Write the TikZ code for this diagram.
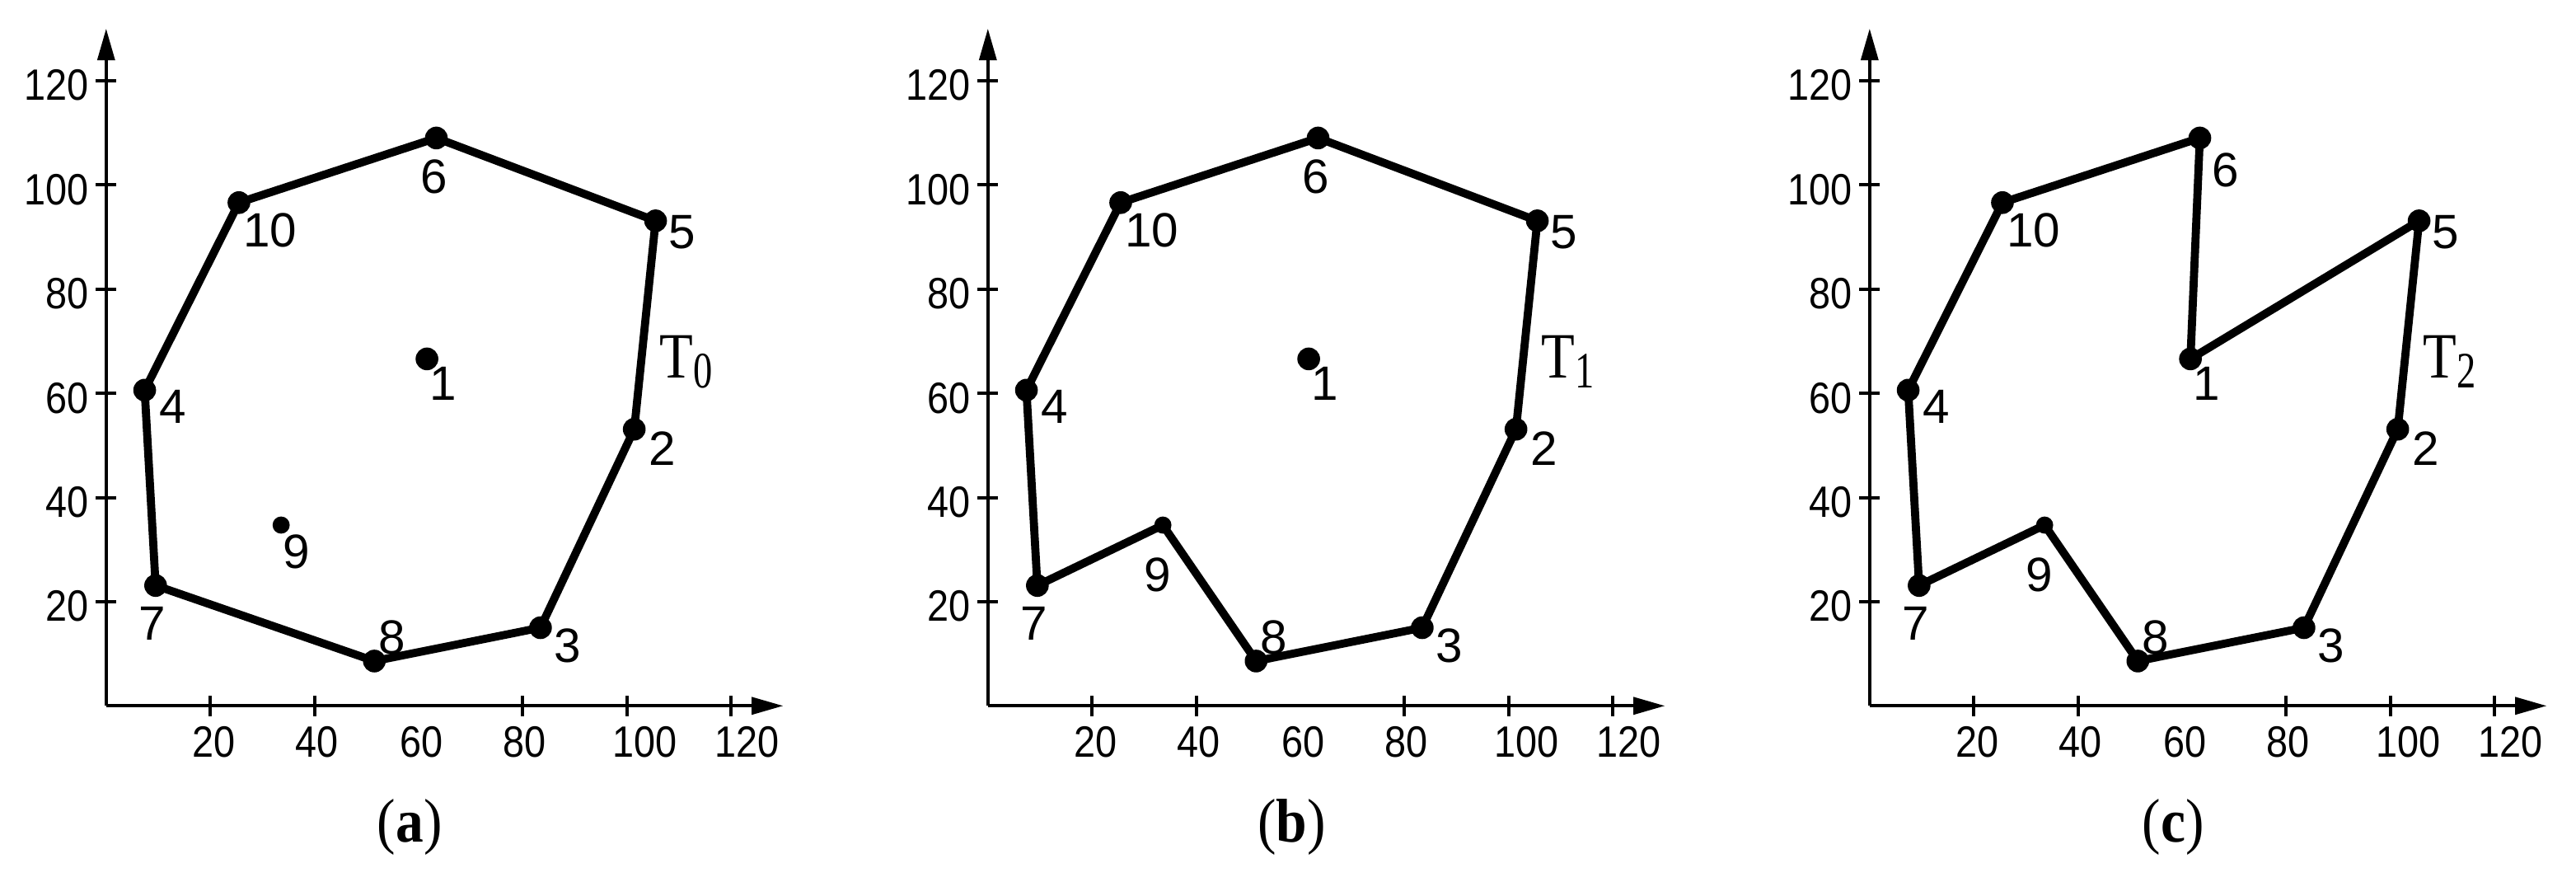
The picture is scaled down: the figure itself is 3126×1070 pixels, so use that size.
\documentclass[tikz,border=0pt]{standalone}
\usepackage{fontspec}
\usetikzlibrary{arrows.meta}
\newfontfamily\lblfont{Liberation Sans}
\newfontfamily\tickfont[FakeStretch=0.88]{Liberation Sans}
\newfontfamily\tfont[FakeStretch=0.85]{Liberation Serif}
\newfontfamily\tsubfont[FakeStretch=0.75]{Liberation Serif}
\newfontfamily\capfont[FakeStretch=0.9]{Liberation Serif}
\tikzset{
  axisline/.style={line width=1pt, -{Triangle[length=9.6pt,width=5.2pt]}},
  tickline/.style={line width=1pt},
  tour/.style={line width=2.45pt, line join=round, line cap=round},
  dot/.style={circle, fill, inner sep=0pt, minimum size=6.9pt},
  smalldot/.style={circle, fill, inner sep=0pt, minimum size=5.2pt},
  lbl/.style={inner sep=0pt, font=\lblfont\fontsize{14.6}{16}\selectfont},
  ticklbl/.style={inner sep=0pt, font=\tickfont\fontsize{13.3}{15}\selectfont},
  tlbl/.style={inner sep=0pt, anchor=base west, font=\tfont\fontsize{19.6}{22}\selectfont},
  caplbl/.style={inner sep=0pt, anchor=base, font=\capfont\fontsize{18.75}{22}\selectfont},
}
\begin{document}
\begin{tikzpicture}[x=0.25pt,y=-0.25pt]
\useasboundingbox (0,0) rectangle (3126,1070);
\foreach \pr/\ox/\tn/\sxa/\sya/\sxn/\syn/\cap in
  {a/128.8/0/-0.75/-11.75/4.75/-8/a,
   b/1198.8/1/-0.75/-11.75/-1.5/-15/b,
   c/2268.8/2/7.75/-9.75/-1.5/-15/c}{
\begin{scope}[shift={(\ox,856.3)}, x=1.58pt, y=1.58pt]
  % axes
  \coordinate (\pr O) at (0,0);
  \coordinate (\pr X) at (130,0);
  \coordinate (\pr Y) at (0,130);
  \draw[axisline] (\pr O) -- (\pr X);
  \draw[axisline] (\pr O) -- (\pr Y);
  \foreach \t in {20,40,80,100,120}{
    \draw[tickline] (\t,-2) -- (\t,2);
  }
  \foreach \t in {20,40,...,120}{
    \draw[tickline] (-2,\t) -- (2,\t);
    \node[ticklbl, anchor=east, yshift=-1.4pt] (\pr yl\t) at (-3.2,\t) {\t};
  }
  \foreach \t/\cx in {20/20.7,40/40.4,60/60.6,80/80.4,100/103.4,120/123.1}{
    \node[ticklbl, anchor=north, yshift=-6.1pt] (\pr xl\t) at (\cx,0) {\t};
  }
  % points
  \foreach \n/\px/\py in {1/61.6/66.6, 2/101.4/53.1, 3/83.4/15.0, 4/7.4/60.6,
      5/105.5/93.1, 6/63.4/109.0, 7/9.5/23.1, 8/51.5/8.6, 10/25.5/96.6}{
    \node[dot] (\pr\n) at (\px,\py) {};
  }
  \node[smalldot] (\pr9) at (33.6,34.7) {};
  % point labels
  \node[lbl, xshift=5pt, yshift=-7.5pt] (\pr l1) at (\pr1) {1};
  \node[lbl, xshift=8.5pt, yshift=-5.9pt] (\pr l2) at (\pr2) {2};
  \node[lbl, xshift=8.25pt, yshift=-5.5pt] (\pr l3) at (\pr3) {3};
  \node[lbl, xshift=8.5pt, yshift=-5pt] (\pr l4) at (\pr4) {4};
  \node[lbl, xshift=8pt, yshift=-3.5pt] (\pr l5) at (\pr5) {5};
  \node[lbl, xshift=\sxa pt, yshift=\sya pt] (\pr l6) at (\pr6) {6};
  \node[lbl, xshift=-1pt, yshift=-11.5pt] (\pr l7) at (\pr7) {7};
  \node[lbl, xshift=5.25pt, yshift=7.25pt] (\pr l8) at (\pr8) {8};
  \node[lbl, xshift=\sxn pt, yshift=\syn pt] (\pr l9) at (\pr9) {9};
  \node[lbl, xshift=9.5pt, yshift=-8.5pt] (\pr l10) at (\pr10) {10};
  % tour name
  \node[tlbl] (\pr T) at (106.2,63.0) {T\raisebox{-3pt}{\tsubfont\fontsize{15.5}{17}\selectfont \tn}};
  % caption
  \node[caplbl] (\pr cap) at (58.3,-26.2) {(\textbf{\cap})};
\end{scope}
}
% tours
\draw[tour] (a10.center) -- (a6.center) -- (a5.center) -- (a2.center) -- (a3.center)
  -- (a8.center) -- (a7.center) -- (a4.center) -- cycle;
\draw[tour] (b10.center) -- (b6.center) -- (b5.center) -- (b2.center) -- (b3.center)
  -- (b8.center) -- (b9.center) -- (b7.center) -- (b4.center) -- cycle;
\draw[tour] (c10.center) -- (c6.center) -- (c1.center) -- (c5.center) -- (c2.center)
  -- (c3.center) -- (c8.center) -- (c9.center) -- (c7.center) -- (c4.center) -- cycle;
\end{tikzpicture}
\end{document}
